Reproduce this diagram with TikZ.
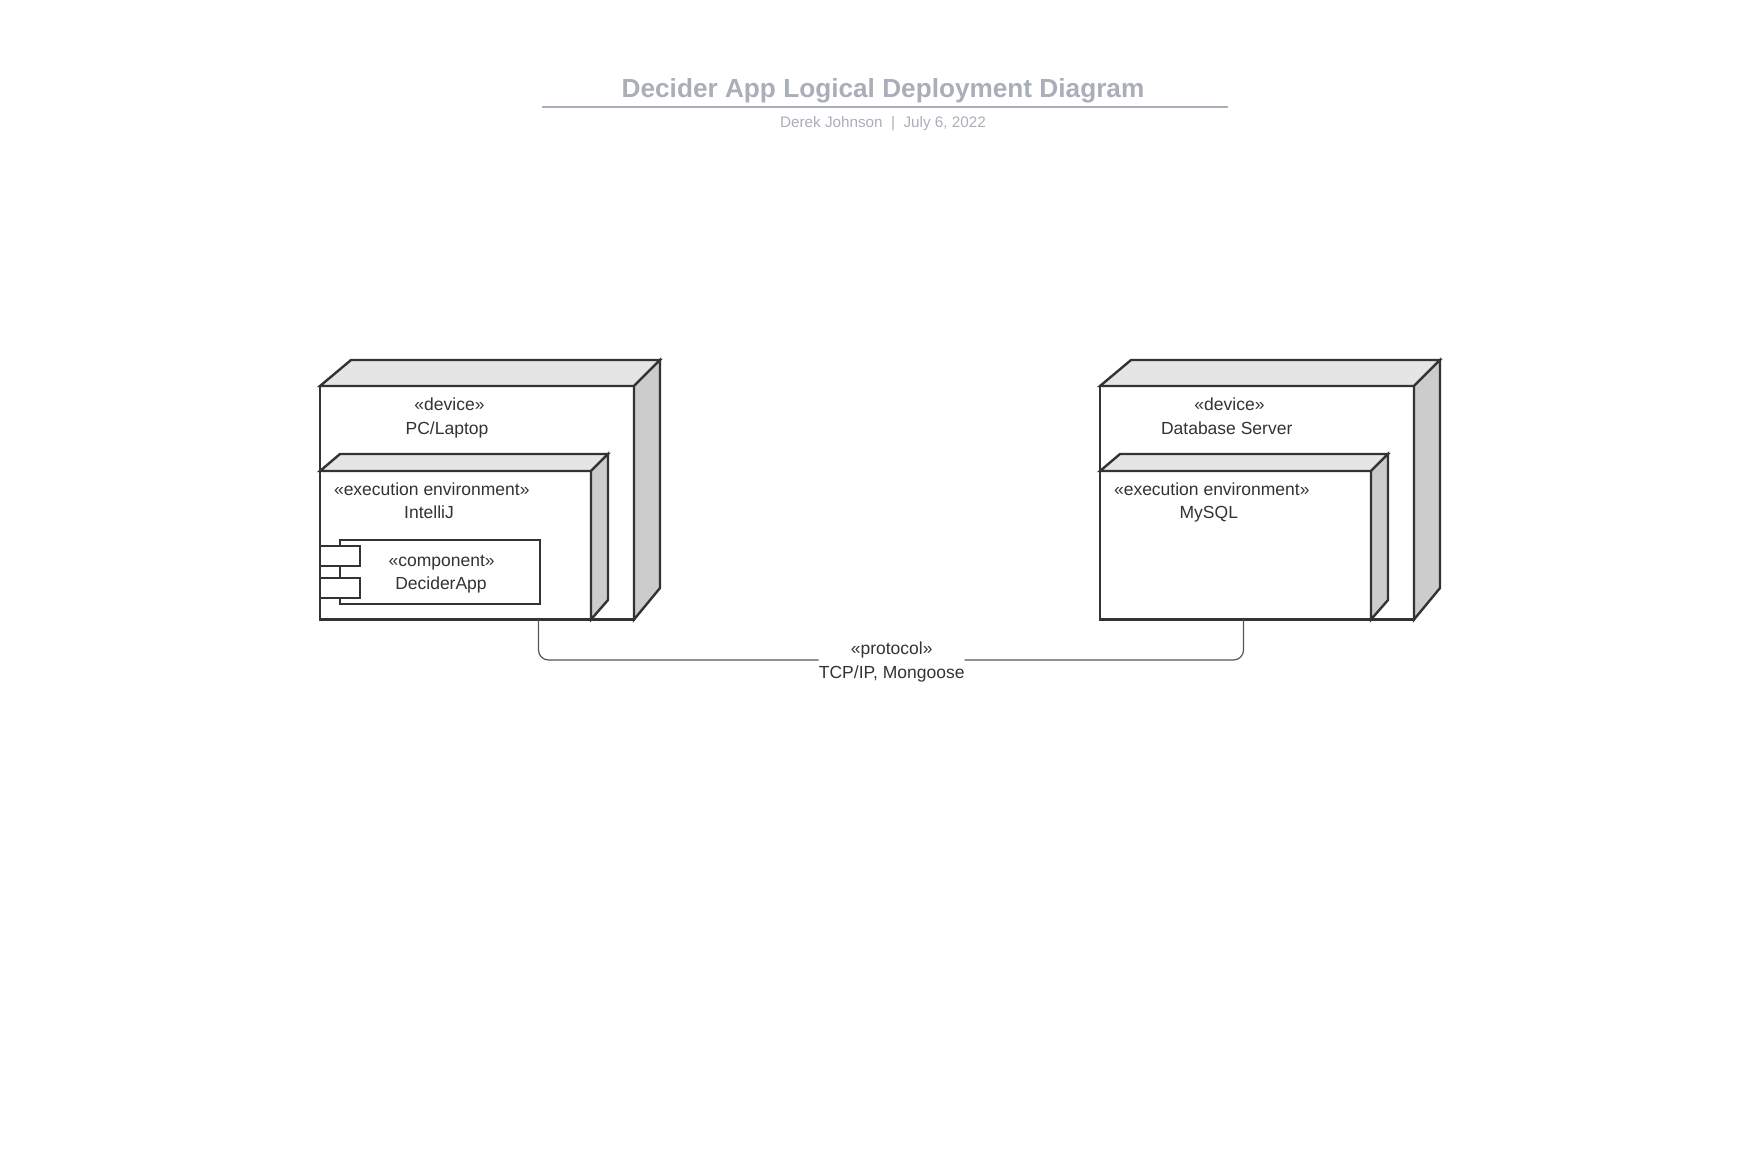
\documentclass[tikz,border=0pt]{standalone}
\usepackage{fontspec}
\setmainfont{Liberation Sans}
\definecolor{ink}{HTML}{333333}
\definecolor{wire}{HTML}{555555}
\definecolor{head}{HTML}{A9AEB9}
\definecolor{topface}{HTML}{E5E5E5}
\definecolor{sideface}{HTML}{CCCCCC}
\def\dist{780}
\tikzstyle{front}=[rectangle,draw=ink,fill=white,line width=2.4pt,inner sep=0pt,outer sep=0pt,anchor=north west]
\tikzstyle{face}=[draw=ink,line width=2.4pt,line join=miter]
\tikzstyle{lbl}=[anchor=base,inner sep=0pt,text=ink,font=\fontsize{17.5}{21}\selectfont]
\tikzstyle{link}=[draw=wire,line width=1.2pt,rounded corners=10pt]

\begin{document}
\begin{tikzpicture}[x=1pt,y=-1pt]
	\useasboundingbox (0,0) rectangle (1760,1151);
	\node[inner sep=0pt,text=head,font=\bfseries\fontsize{26.2}{31}\selectfont](title) at (883,91){Decider App Logical Deployment Diagram};
	\node[inner sep=0pt,text=head,font=\fontsize{15.25}{18}\selectfont](byline) at (883,123.5){Derek Johnson \ | \ July 6, 2022};
	\coordinate (rulel) at (542,107);
	\coordinate (ruler) at (1228,107);
	\draw[draw=head,line width=2pt](rulel)--(ruler);
	% the two cubes, right one is the left one moved over
	\foreach \n/\o in {pc/0,db/\dist}{
		\node[front,minimum width=314pt,minimum height=233.5pt](\n) at (320+\o,386){};
		\draw[face,fill=topface](\n.north west)--++(31,-26)--++(309,0)--(\n.north east)--cycle;
		\draw[face,fill=sideface](\n.north east)--++(26,-26)--++(0,228)--(\n.south east)--cycle;
		\node[front,minimum width=271pt,minimum height=148.5pt](\n env) at (320+\o,471){};
		\draw[face,fill=topface](\n env.north west)--++(20,-17)--++(268,0)--(\n env.north east)--cycle;
		\draw[face,fill=sideface](\n env.north east)--++(17,-17)--++(0,146)--(\n env.south east)--cycle;
	}
	\node[front,minimum width=200pt,minimum height=64pt](app) at (340,540){};
	\node[front,minimum width=40pt,minimum height=20pt](port1) at (320,546){};
	\node[front,minimum width=40pt,minimum height=20pt](port2) at (320,578){};
	\node[lbl](pcdev) at (449.5,410){«device»};
	\node[lbl](pcname) at (447,434){PC/Laptop};
	\node[lbl](pcenvdev) at (431.8,495){«execution environment»};
	\node[lbl](pcenvname) at (429,518){IntelliJ};
	\node[lbl](appdev) at (441.7,566){«component»};
	\node[lbl](appname) at (441,589.5){DeciderApp};
	\node[lbl](dbdev) at (1229.5,410){«device»};
	\node[lbl](dbname) at (1226.7,434){Database Server};
	\node[lbl](dbenvdev) at (1211.8,495){«execution environment»};
	\node[lbl](dbenvname) at (1208.8,518){MySQL};
	\node[lbl,anchor=center,align=center](proto) at (891.7,660){\rule{0pt}{16pt}«protocol»\\[3pt]TCP/IP, Mongoose};
	\coordinate (pcend) at (538.5,619.5);
	\coordinate (dbend) at (1243.5,619.5);
	\draw[link](pcend)|-(proto.west);
	\draw[link](proto.east)-|(dbend);
\end{tikzpicture}
\end{document}
